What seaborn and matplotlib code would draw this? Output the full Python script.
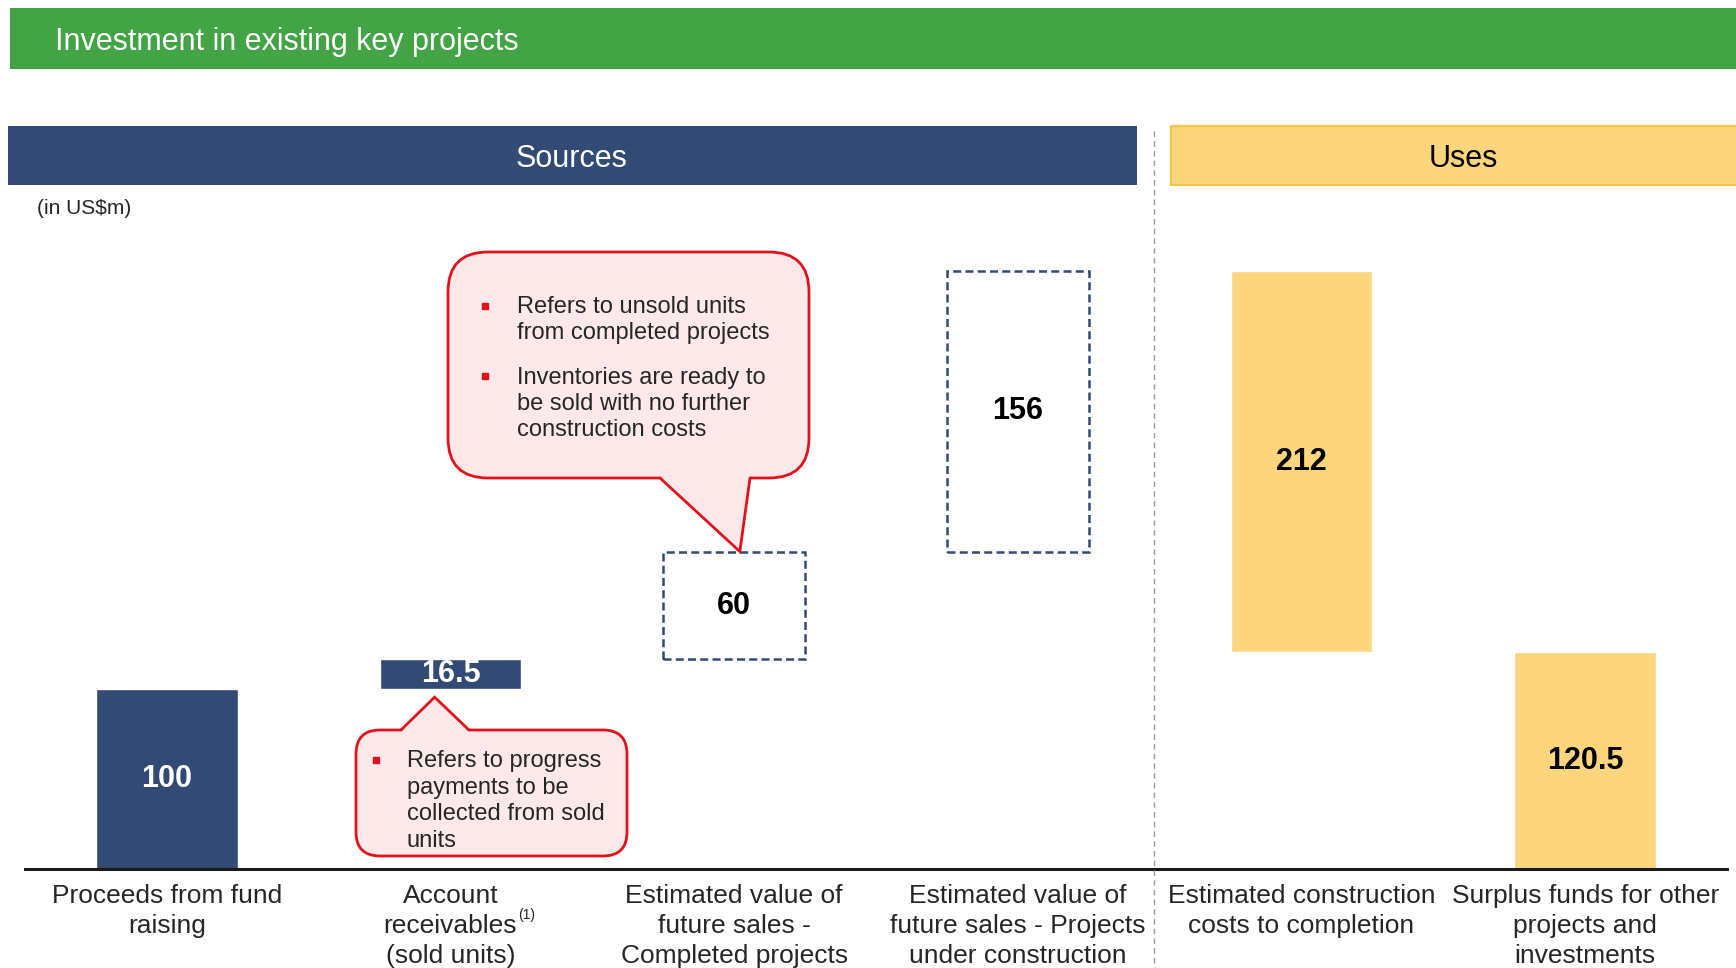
# Sources & uses waterfall - investment in existing key projects
import numpy as np
import pandas as pd
import matplotlib
matplotlib.use("Agg")
import matplotlib.pyplot as plt
from matplotlib.patches import FancyBboxPatch, Polygon, Rectangle
import seaborn as sns

# ==========================
# Data
# ==========================
categories = [
    "Proceeds from fund\nraising",
    "Account\nreceivables\n(sold units)",
    "Estimated value of\nfuture sales -\nCompleted projects",
    "Estimated value of\nfuture sales - Projects\nunder construction",
    "Estimated construction\ncosts to completion",
    "Surplus funds for other\nprojects and\ninvestments",
]
values = [100, 16.5, 60, 156, 212, 120.5]
styles = ["cash", "cash", "future", "future", "use", "use"]

title = "Investment in existing key projects"
unit_note = "(in US$m)"
footnote_mark = "(1)"
note_completed = [
    "Refers to unsold units\nfrom completed projects",
    "Inventories are ready to\nbe sold with no further\nconstruction costs",
]
note_receivables = "Refers to progress\npayments to be\ncollected from sold\nunits"

# waterfall: sources stack up, uses come back down
src_vals = np.array(values[:4])
use_vals = np.array(values[4:])
total = src_vals.sum()
bottoms = np.concatenate([
    np.concatenate([[0], np.cumsum(src_vals)[:-1]]),
    total - np.cumsum(use_vals),
])

df = pd.DataFrame({"item": categories, "value": values,
                   "bottom": bottoms, "style": styles})

# ==========================
# Style
# ==========================
GREEN = "#43A446"
NAVY = "#314B75"
YELLOW = "#FDD57C"
YELLOW_EDGE = "#F6C343"
RED = "#E0121C"
PINK = "#FDE9EA"

sns.set_style("white")
plt.rcParams["font.family"] = ["Liberation Sans", "DejaVu Sans"]

W, H = 1736, 968
base_px, top_px, ax_top_px = 869, 271, 200
px_per_unit = (base_px - top_px) / total
ymax = (base_px - ax_top_px) / px_per_unit

fig = plt.figure(figsize=(W / 100, H / 100), dpi=100)
ax = fig.add_axes([25 / W, (H - base_px) / H, 1702 / W, (base_px - ax_top_px) / H])
ax.patch.set_alpha(0)

# ==========================
# Bars
# ==========================
bar_kws = {
    "cash": dict(color=NAVY),
    "future": dict(color="white", edgecolor=NAVY, linewidth=1.8,
                   linestyle=(0, (3.2, 1.7))),
    "use": dict(color=YELLOW),
}
text_color = {"cash": "white", "future": "black", "use": "black"}

for style in ["cash", "future", "use"]:
    sub = df[df["style"] == style]
    sns.barplot(data=sub, x="item", y="value", order=categories, width=0.5,
                errorbar=None, saturation=1, bottom=sub["bottom"].to_numpy(),
                ax=ax, **bar_kws[style])
    ax.bar_label(ax.containers[-1], labels=[f"{v:g}" for v in sub["value"]],
                 label_type="center", color=text_color[style],
                 fontsize=22, fontweight="bold")

ax.set_xlim(-0.5, 5.5)
ax.set_ylim(0, ymax)
ax.set_xlabel("")
ax.set_ylabel("")
ax.set_yticks([])
sns.despine(ax=ax, left=True)
ax.spines["bottom"].set_linewidth(2.2)
ax.spines["bottom"].set_color("#1a1a1a")
ax.tick_params(axis="x", length=0, pad=10.5, labelsize=19)
for lbl in ax.get_xticklabels():
    lbl.set_linespacing(1.32)

# ==========================
# Overlay in pixel coordinates
# ==========================
ov = fig.add_axes([0, 0, 1, 1])
ov.set_xlim(0, W)
ov.set_ylim(H, 0)
ov.axis("off")


def to_px(x, y):
    return ov.transData.inverted().transform(ax.transData.transform((x, y)))


# footnote mark after "receivables"
ov.text(518, 915, footnote_mark, fontsize=10, ha="left", va="center")

# title bar
ov.add_patch(Rectangle((10, 8), W - 10, 61, fc=GREEN, ec="none"))
ov.text(55, 42, title, color="white", fontsize=22, ha="left", va="center")

# section headers
ov.add_patch(Rectangle((8, 126), 1129, 59, fc=NAVY, ec="none"))
ov.text(572, 159, "Sources", color="white", fontsize=22,
        ha="center", va="center")
ov.add_patch(Rectangle((1171, 126), W - 1168, 59, fc=YELLOW, ec=YELLOW_EDGE, lw=1.5))
ov.text(1463, 159, "Uses", color="black", fontsize=22,
        ha="center", va="center")
ov.plot([1154, 1154], [131, H], color="#9c9c9c", lw=1, ls=(0, (4, 3)))
ov.text(37, 209, unit_note, fontsize=15, ha="left", va="center")


def callout(x0, y0, x1, y1, radius, base_x0, base_x1, tip, down):
    ov.add_patch(FancyBboxPatch((x0, y0), x1 - x0, y1 - y0,
                                boxstyle=f"round,pad=0,rounding_size={radius}",
                                fc=PINK, ec=RED, lw=2, zorder=3))
    by = y1 if down else y0
    inner = by - 2 if down else by + 2
    ov.add_patch(Polygon([(base_x0, inner), tuple(tip), (base_x1, inner)],
                         closed=True, fc=PINK, ec="none", zorder=4))
    ov.plot([base_x0, tip[0], base_x1], [by, tip[1], by], color=RED, lw=2,
            zorder=5, solid_joinstyle="miter")


# callout on the completed-projects box
tip1 = to_px(2.02, bottoms[2] + values[2])
callout(448, 252, 809, 478, 40, 660, 750, tip1, down=True)
ov.plot([485, 485], [306, 376], marker="s", ms=5, ls="none", color=RED, zorder=6)
ov.text(517, 320, note_completed[0], fontsize=17, linespacing=1.26,
        ha="left", va="center", zorder=6)
ov.text(517, 404, note_completed[1], fontsize=17, linespacing=1.26,
        ha="left", va="center", zorder=6)

# callout under the receivables bar
tip2 = to_px(0.944, bottoms[1])
tip2[1] += 8
callout(356, 730, 627, 856, 24, 401, 469, tip2, down=False)
ov.plot([376], [760], marker="s", ms=5, ls="none", color=RED, zorder=6)
ov.text(407, 801, note_receivables, fontsize=17, linespacing=1.27,
        ha="left", va="center", zorder=6)

fig.savefig("out.png", dpi=100)
